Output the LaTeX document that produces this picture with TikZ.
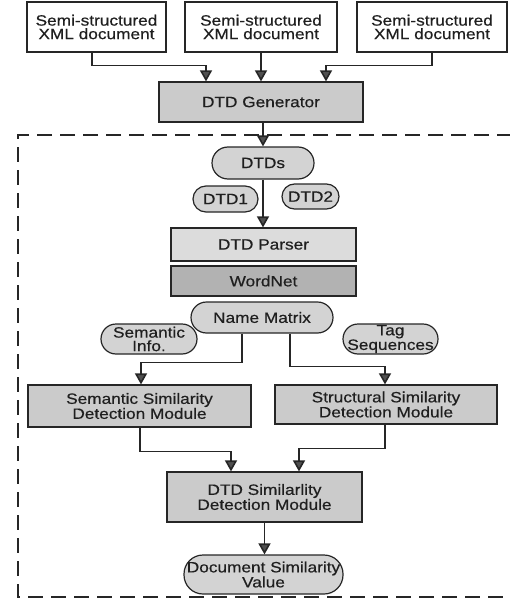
\documentclass[tikz,border=0pt]{standalone}
\usepackage{fontspec}
\setmainfont[FakeStretch=1.15,FakeBold=0.5]{Liberation Sans}
\usetikzlibrary{arrows.meta}
\definecolor{lineC}{HTML}{262626}
\definecolor{tipC}{HTML}{505050}
\definecolor{boxG}{HTML}{CBCBCB}
\definecolor{boxL}{HTML}{DCDCDC}
\definecolor{boxD}{HTML}{B2B2B2}
\definecolor{ovalG}{HTML}{D3D3D3}
\tikzset{
  base/.style={draw=lineC, line width=1.2pt, align=center, inner sep=0pt,
    text=black!88, font=\fontsize{15}{13.5}\selectfont},
  docbox/.style={base, fill=white},
  procbox/.style={base, fill=boxG},
  ovalbox/.style={base, fill=ovalG},
  arr/.style={draw=lineC, line width=1.6pt,
    -{Triangle[width=12pt,length=11pt,fill=tipC]}},
  dashbox/.style={draw=black!85, line width=1.7pt, dash pattern=on 15pt off 8pt}
}
\begin{document}
\begin{tikzpicture}[x=1pt,y=-1pt]
\useasboundingbox (0,0) rectangle (509,607);
% dashed frame
\draw[dashbox] (512,135) -- (18,135) -- (18,597) -- (512,597);
% top documents
\node[docbox, minimum width=139pt, minimum height=50pt] (doc1) at (96.5,27) {Semi-structured\\XML document};
\node[docbox, minimum width=152pt, minimum height=50pt] (doc2) at (261,27) {Semi-structured\\XML document};
\node[docbox, minimum width=150pt, minimum height=50pt] (doc3) at (432,27) {Semi-structured\\XML document};
\node[procbox, minimum width=204pt, minimum height=40pt] (gen) at (261,102) {DTD Generator};
% ovals
\node[ovalbox, rounded corners=16pt, minimum width=102pt, minimum height=32pt] (dtds) at (263,163) {DTDs};
\node[ovalbox, rounded corners=13pt, minimum width=65pt, minimum height=26pt] (dtd1) at (225.5,199) {DTD1};
\node[ovalbox, rounded corners=12.5pt, minimum width=57pt, minimum height=25pt] (dtd2) at (310.5,196.5) {DTD2};
\node[base, fill=boxL, minimum width=185pt, minimum height=33pt] (parser) at (263.5,244.5) {DTD Parser};
\node[base, fill=boxD, minimum width=185pt, minimum height=30pt] (wordnet) at (263.5,281) {WordNet};
\node[ovalbox, rounded corners=15.5pt, minimum width=142pt, minimum height=31pt] (nm) at (262,317.5) {Name Matrix};
\node[ovalbox, rounded corners=15pt, minimum width=96pt, minimum height=30pt] (seminfo) at (149,339) {Semantic\\Info.};
\node[ovalbox, rounded corners=15pt, minimum width=95pt, minimum height=30pt] (tag) at (390.5,339) {Tag\\Sequences};
\node[procbox, minimum width=223pt, minimum height=42pt] (sem) at (139.5,406) {Semantic Similarity\\Detection Module};
\node[procbox, minimum width=222pt, minimum height=39pt] (str) at (386,404.5) {Structural Similarity\\Detection Module};
\node[procbox, minimum width=195pt, minimum height=50pt] (dtdsim) at (264.5,497) {DTD Similarlity\\Detection Module};
\node[ovalbox, rounded corners=19pt, minimum width=159pt, minimum height=39pt] (docsim) at (263.5,574.5) {Document Similarity\\Value};
% connectors
\draw[arr] ([xshift=-4.5pt]doc1.south) -- ++(0,13) -| ([xshift=-55pt]gen.north);
\draw[arr] (doc2.south) -- (gen.north);
\draw[arr] (doc3.south) -- ++(0,13) -| ([xshift=65pt]gen.north);
\draw[arr] (dtds.north |- gen.south) -- (dtds.north);
\draw[arr] (dtds.south) -- (dtds.south |- parser.north);
\draw[arr] ([xshift=-20pt]nm.south) -- ++(0,29) -| ([xshift=1.5pt]sem.north);
\draw[arr] ([xshift=28pt]nm.south) -- ++(0,33) -| ([xshift=-1pt]str.north);
\draw[arr] ([xshift=0.5pt]sem.south) -- ++(0,24) -| ([xshift=-33.5pt]dtdsim.north);
\draw[arr] ([xshift=-1pt]str.south) -- ++(0,24) -| ([xshift=34.5pt]dtdsim.north);
\draw[arr] (dtdsim.south) -- (dtdsim.south |- docsim.north);
\end{tikzpicture}
\end{document}
